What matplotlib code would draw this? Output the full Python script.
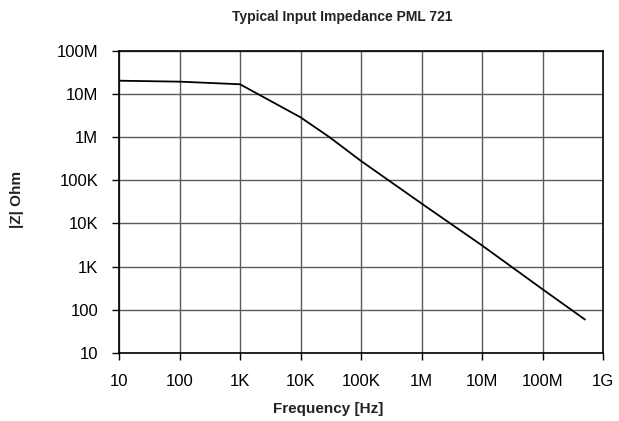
import matplotlib
matplotlib.use("Agg")
import matplotlib.pyplot as plt
from matplotlib.ticker import FixedLocator, NullLocator

plt.rcParams['font.family'] = ['Liberation Sans', 'DejaVu Sans']

freq_hz = [10, 100, 1e3, 1e4, 3e4, 1e5, 1e6, 1e7, 1e8, 5e8]
impedance_ohm = [20.2e6, 19.2e6, 16.7e6, 2.87e6, 1.0e6, 280e3, 29e3, 3.1e3, 300, 60]

x_ticks = [1e1, 1e2, 1e3, 1e4, 1e5, 1e6, 1e7, 1e8, 1e9]
x_tick_labels = ['10', '100', '1K', '10K', '100K', '1M', '10M', '100M', '1G']
y_ticks = [1e1, 1e2, 1e3, 1e4, 1e5, 1e6, 1e7, 1e8]
y_tick_labels = ['10', '100', '1K', '10K', '100K', '1M', '10M', '100M']

W, H = 619, 421
fig = plt.figure(figsize=(W / 100, H / 100), dpi=100)
ax = fig.add_axes([119 / W, 1 - 353 / H, 484 / W, 302.3 / H])

ax.plot(freq_hz, impedance_ohm, color='black', linewidth=1.3)
ax.set_xscale('log')
ax.set_yscale('log')
ax.set_xlim(1e1, 1e9)
ax.set_ylim(1e1, 1e8)

ax.xaxis.set_major_locator(FixedLocator(x_ticks))
ax.yaxis.set_major_locator(FixedLocator(y_ticks))
ax.xaxis.set_minor_locator(NullLocator())
ax.yaxis.set_minor_locator(NullLocator())
ax.set_xticklabels(x_tick_labels)
ax.set_yticklabels(y_tick_labels)

ax.grid(True, which='major', color='#5a5a5a', linewidth=1.0)
ax.set_axisbelow(True)
for s in ax.spines.values():
    s.set_color('black')
    s.set_linewidth(1.2)

ax.tick_params(axis='both', which='major', direction='out', length=5, width=1,
               labelsize=12, colors='black')
ax.tick_params(axis='y', pad=10)
ax.tick_params(axis='x', pad=10)

fig.text(342.5 / W, 1 - 17 / H, 'Typical Input Impedance PML 721', ha='center', va='center',
         fontsize=10, fontweight='bold', color='#222222')
fig.text(328 / W, 1 - 409 / H, 'Frequency [Hz]', ha='center', va='center',
         fontsize=11, fontweight='bold', color='#222222')
fig.text(17.5 / W, 1 - 199 / H, '|Z| Ohm', ha='center', va='center', rotation=90,
         fontsize=11, fontweight='bold', color='#222222')

fig.savefig('out.png', dpi=100)
